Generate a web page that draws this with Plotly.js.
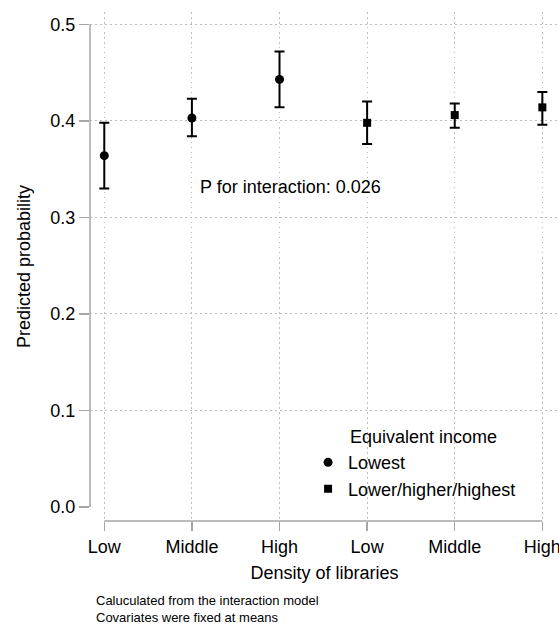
<!DOCTYPE html>
<html>
<head>
<meta charset="utf-8">
<script src="https://cdn.plot.ly/plotly-3.0.1.min.js"></script>
<style>html,body{margin:0;padding:0;background:#fff}#chart{width:559px;height:624px}</style>
</head>
<body>
<div id="chart"></div>
<script>
// ---- data ----
var densityLabels = ['Low', 'Middle', 'High', 'Low', 'Middle', 'High'];
var groupNames = ['Lowest', 'Lower/higher/highest'];
var lowestPos = [1, 2, 3];
var lowestProb = [0.364, 0.403, 0.443];
var lowestUpper = [0.398, 0.423, 0.472];
var lowestLower = [0.330, 0.384, 0.414];
var higherPos = [4, 5, 6];
var higherProb = [0.398, 0.406, 0.414];
var higherUpper = [0.420, 0.418, 0.430];
var higherLower = [0.376, 0.393, 0.396];
var yTicks = [0.0, 0.1, 0.2, 0.3, 0.4, 0.5];
var yTickText = ['0.0', '0.1', '0.2', '0.3', '0.4', '0.5'];
var xTicks = [1, 2, 3, 4, 5, 6];

function diff(a, b) { return a.map(function (v, i) { return +(v - b[i]).toFixed(4); }); }

var FONT = 'Liberation Sans, Arial, sans-serif';
var errStyle = {type: 'data', symmetric: false, color: '#000', thickness: 2, width: 5};

var traces = [
  {
    type: 'scatter', mode: 'markers', name: groupNames[0],
    x: lowestPos, y: lowestProb,
    marker: {symbol: 'circle', size: 9, color: '#000'},
    error_y: Object.assign({array: diff(lowestUpper, lowestProb), arrayminus: diff(lowestProb, lowestLower)}, errStyle)
  },
  {
    type: 'scatter', mode: 'markers', name: groupNames[1],
    x: higherPos, y: higherProb,
    marker: {symbol: 'square', size: 8, color: '#000'},
    error_y: Object.assign({array: diff(higherUpper, higherProb), arrayminus: diff(higherProb, higherLower)}, errStyle)
  }
];

var axisGray = '#a6a6a6';
var gridGray = '#bdbdbd';
var gridDash = '1.5px,3.5px';

var shapes = [
  // y axis line spanning tick range
  {type: 'line', xref: 'paper', yref: 'y', x0: 0, x1: 0, y0: yTicks[0], y1: yTicks[yTicks.length - 1],
   line: {color: axisGray, width: 1.5}},
  // x axis line spanning category range
  {type: 'line', xref: 'x', yref: 'paper', x0: xTicks[0], x1: xTicks[xTicks.length - 1], y0: 0, y1: 0,
   line: {color: axisGray, width: 1.5}}
];

var layout = {
  width: 559, height: 624,
  margin: {l: 90, r: 0, t: 12, b: 103},
  paper_bgcolor: '#fff', plot_bgcolor: '#fff',
  font: {family: FONT, size: 18, color: '#000'},
  showlegend: true,
  legend: {
    x: 0.465, y: 0.151, xanchor: 'left', yanchor: 'top',
    font: {family: FONT, size: 18, color: '#000'},
    bgcolor: 'rgba(0,0,0,0)', borderwidth: 0,
    itemwidth: 30
  },
  xaxis: {
    range: [0.837, 6.19],
    tickmode: 'array', tickvals: xTicks, ticktext: densityLabels,
    ticklabeloverflow: 'allow',
    showline: false, zeroline: false,
    showgrid: true, gridcolor: gridGray, griddash: gridDash, gridwidth: 1,
    ticks: 'outside', ticklen: 9, tickcolor: axisGray, tickwidth: 1.5,
    tickfont: {family: FONT, size: 18, color: '#000'},
    title: {text: 'Density of libraries', font: {family: FONT, size: 18, color: '#000'}, standoff: 10}
  },
  yaxis: {
    range: [-0.0145, 0.5128],
    tickmode: 'array', tickvals: yTicks, ticktext: yTickText,
    showline: false,
    zeroline: true, zerolinecolor: 'rgba(0,0,0,0)', zerolinewidth: 1,
    showgrid: true, gridcolor: gridGray, griddash: gridDash, gridwidth: 1,
    ticks: 'outside', ticklen: 10, tickcolor: axisGray, tickwidth: 1.5,
    tickfont: {family: FONT, size: 18, color: '#000'},
    title: {text: 'Predicted probability', font: {family: FONT, size: 18, color: '#000'}, standoff: 15}
  },
  shapes: shapes,
  annotations: [
    {xref: 'x', yref: 'y', x: 3.12, y: 0.331, text: 'P for interaction: 0.026', showarrow: false,
     font: {family: FONT, size: 18, color: '#000'}, xanchor: 'center', yanchor: 'middle'},
    {xref: 'paper', yref: 'paper', x: 0.550, y: 0.165, text: 'Equivalent income', showarrow: false,
     font: {family: FONT, size: 18, color: '#000'}, xanchor: 'left', yanchor: 'middle'},
    {xref: 'paper', yref: 'paper', x: 0.0085, y: -0.1729,
     text: 'Caluculated from the interaction model<br>Covariates were fixed at means', showarrow: false,
     align: 'left', font: {family: FONT, size: 13, color: '#000'}, xanchor: 'left', yanchor: 'middle'}
  ]
};

Plotly.newPlot('chart', traces, layout, {displayModeBar: false, staticPlot: true});
</script>
</body>
</html>
